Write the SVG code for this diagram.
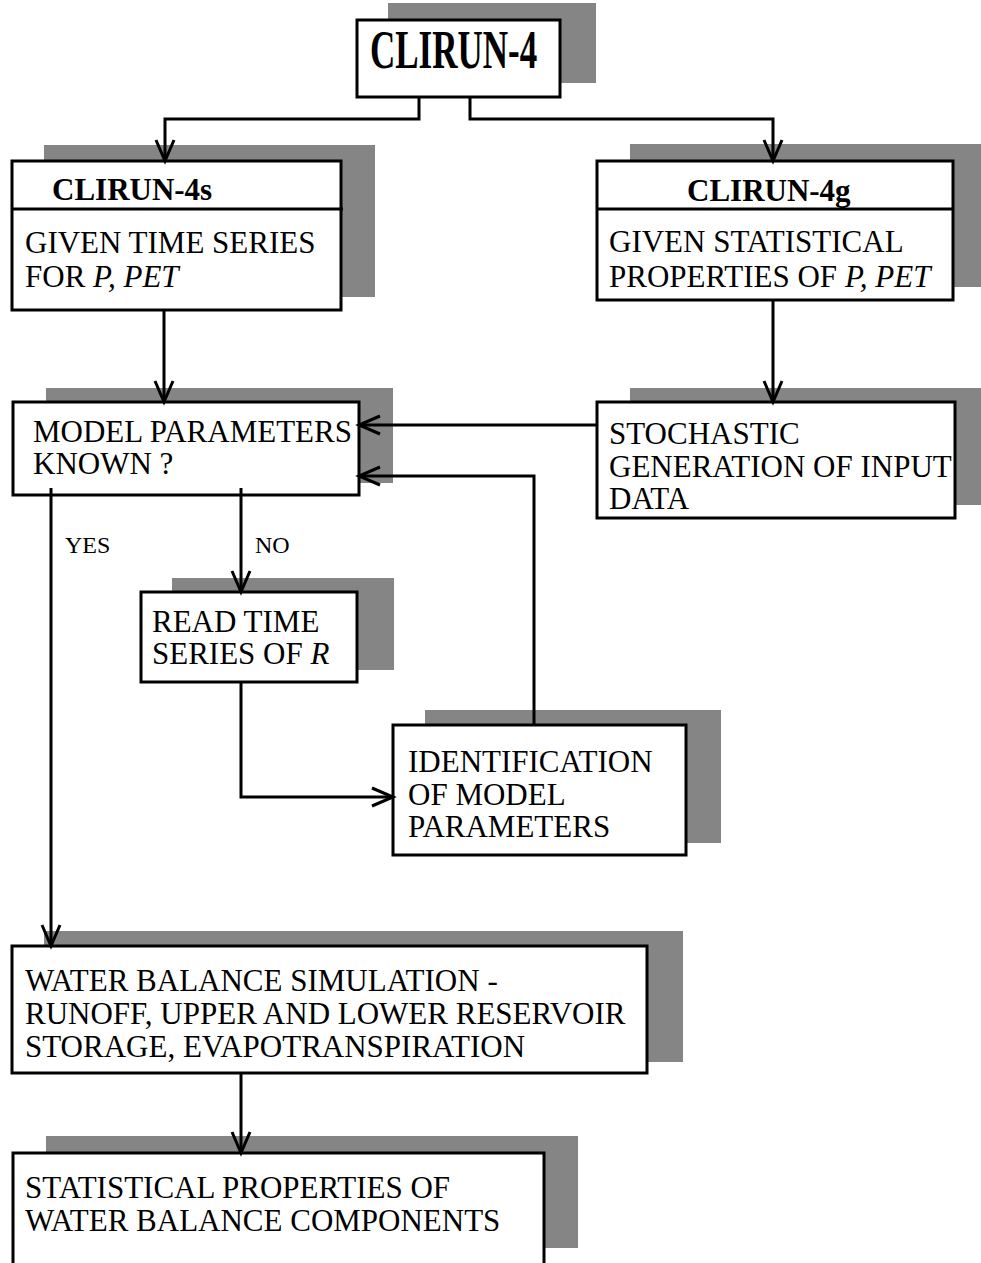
<svg xmlns="http://www.w3.org/2000/svg" width="981" height="1263" viewBox="0 0 981 1263">
<style>
.shadow{fill:#858585;stroke:none}
.box{fill:#fff;stroke:#000;stroke-width:3}
.t{font-family:"Liberation Serif","Times New Roman",serif;font-size:31px;fill:#000}
.b{font-weight:bold}
.i{font-style:italic}
.lbl{font-family:"Liberation Serif","Times New Roman",serif;font-size:24px;fill:#000}
.c{fill:none;stroke:#000;stroke-width:3}
</style>
<defs>
<marker id="arr" markerUnits="userSpaceOnUse" markerWidth="40" markerHeight="40" viewBox="-30 -15 40 30" refX="0" refY="0" orient="auto" overflow="visible">
<path d="M-21,-9 L0,0 L-21,9" fill="none" stroke="#000" stroke-width="3"/>
</marker>
</defs>
<rect width="981" height="1263" fill="#fff"/>

<g id="n-clirun4">
<rect class="shadow" x="388" y="3" width="208" height="80"/>
<rect class="box" x="357" y="20" width="203" height="77"/>
<text class="t b" font-size="35" transform="translate(370,68) scale(1,1.55)" style="font-size:35px">CLIRUN-4</text>
</g>

<g id="n-clirun4s">
<rect class="shadow" x="44" y="145" width="331" height="152"/>
<rect class="box" x="12" y="161" width="329" height="149"/>
<line x1="12" y1="209" x2="343" y2="209" stroke="#000" stroke-width="3"/>
<text class="t b" x="52" y="200">CLIRUN-4s</text>
<text class="t" x="25" y="253">GIVEN TIME SERIES</text>
<text class="t" x="25" y="287">FOR <tspan class="i">P, PET</tspan></text>
</g>

<g id="n-clirun4g">
<rect class="shadow" x="630" y="144" width="351" height="143"/>
<rect class="box" x="597" y="161" width="356" height="139"/>
<line x1="597" y1="209" x2="953" y2="209" stroke="#000" stroke-width="3"/>
<text class="t b" x="687" y="201">CLIRUN-4g</text>
<text class="t" x="609" y="252">GIVEN STATISTICAL</text>
<text class="t" x="609" y="287">PROPERTIES OF <tspan class="i">P, PET</tspan></text>
</g>

<g id="n-model">
<rect class="shadow" x="46" y="388" width="347" height="95"/>
<rect class="box" x="13" y="402" width="346" height="93"/>
<text class="t" x="33" y="442">MODEL PARAMETERS</text>
<text class="t" x="33" y="474">KNOWN ?</text>
</g>

<g id="n-stochastic">
<rect class="shadow" x="630" y="388" width="351" height="117"/>
<rect class="box" x="597" y="402" width="358" height="116"/>
<text class="t" x="609" y="444">STOCHASTIC</text>
<text class="t" x="609" y="477">GENERATION OF INPUT</text>
<text class="t" x="609" y="509">DATA</text>
</g>

<g id="n-read">
<rect class="shadow" x="172" y="578" width="222" height="92"/>
<rect class="box" x="141" y="592" width="216" height="90"/>
<text class="t" x="152" y="632">READ TIME</text>
<text class="t" x="152" y="664">SERIES OF <tspan class="i">R</tspan></text>
</g>

<g id="n-ident">
<rect class="shadow" x="425" y="710" width="296" height="133"/>
<rect class="box" x="393" y="725" width="293" height="130"/>
<text class="t" x="408" y="772">IDENTIFICATION</text>
<text class="t" x="408" y="805">OF MODEL</text>
<text class="t" x="408" y="837">PARAMETERS</text>
</g>

<g id="n-water">
<rect class="shadow" x="44" y="931" width="639" height="131"/>
<rect class="box" x="12" y="946" width="635" height="127"/>
<text class="t" x="25" y="991">WATER BALANCE SIMULATION -</text>
<text class="t" x="25" y="1024">RUNOFF, UPPER AND LOWER RESERVOIR</text>
<text class="t" x="25" y="1057">STORAGE, EVAPOTRANSPIRATION</text>
</g>

<g id="n-stats">
<rect class="shadow" x="46" y="1136" width="532" height="112"/>
<rect class="box" x="13" y="1153" width="531" height="120"/>
<text class="t" x="25" y="1198">STATISTICAL PROPERTIES OF</text>
<text class="t" x="25" y="1231">WATER BALANCE COMPONENTS</text>
</g>

<g id="connectors">
<polyline class="c" points="419,97 419,119 165,119 165,161" marker-end="url(#arr)"/>
<polyline class="c" points="470,97 470,119 773,119 773,161" marker-end="url(#arr)"/>
<line class="c" x1="164" y1="310" x2="164" y2="402" marker-end="url(#arr)"/>
<line class="c" x1="773" y1="300" x2="773" y2="402" marker-end="url(#arr)"/>
<line class="c" x1="597" y1="425" x2="359" y2="425" marker-end="url(#arr)"/>
<polyline class="c" points="534,725 534,476 359,476" marker-end="url(#arr)"/>
<line class="c" x1="51" y1="488" x2="51" y2="946" marker-end="url(#arr)"/>
<line class="c" x1="241" y1="488" x2="241" y2="592" marker-end="url(#arr)"/>
<polyline class="c" points="241,682 241,797 393,797" marker-end="url(#arr)"/>
<line class="c" x1="241" y1="1073" x2="241" y2="1153" marker-end="url(#arr)"/>
</g>

<g id="labels">
<text class="lbl" x="65" y="553">YES</text>
<text class="lbl" x="255" y="553">NO</text>
</g>
</svg>
